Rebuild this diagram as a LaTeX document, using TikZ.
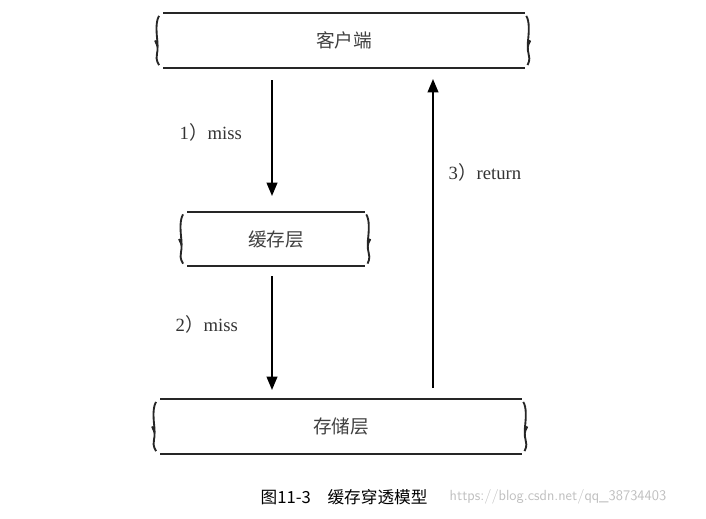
\documentclass[tikz,border=0pt]{standalone}
\usepackage{fontspec}
\newfontfamily\cjk{Noto Sans CJK SC}
\setmainfont{Liberation Serif}
\usetikzlibrary{arrows.meta}
\newcommand{\rp}{{\cjk ）}}
\tikzset{
  layer/.style={minimum height=40.5pt, inner sep=0pt, font=\cjk\fontsize{14}{16}\selectfont, text=black!75},
  edge/.style={line width=1.6pt, black!85},
  side/.style={line width=1.4pt, black!85},
  conn/.style={line width=1.4pt, -{Triangle[length=10pt,width=8pt]}},
  lbl/.style={font=\fontsize{14}{16}\selectfont, text=black!80}
}
\newcommand{\layerbox}[1]{%
  \draw[edge] (#1.north west) -- (#1.north east);
  \draw[edge] (#1.south west) -- (#1.south east);
  \draw[side] ([xshift=-3pt,yshift=-2pt]#1.north west) .. controls ([xshift=-8pt,yshift=-10pt]#1.north west) and ([xshift=-1pt,yshift=-12pt]#1.west) .. ([xshift=-6pt]#1.west) .. controls ([xshift=-1pt,yshift=12pt]#1.south west) and ([xshift=-8pt,yshift=10pt]#1.south west) .. ([xshift=-3pt,yshift=2pt]#1.south west);
  \draw[side] ([xshift=1pt,yshift=-2pt]#1.north east) .. controls ([xshift=6pt,yshift=-10pt]#1.north east) and ([xshift=-1pt,yshift=-12pt]#1.east) .. ([xshift=4pt]#1.east) .. controls ([xshift=-1pt,yshift=12pt]#1.south east) and ([xshift=6pt,yshift=10pt]#1.south east) .. ([xshift=2pt,yshift=2pt]#1.south east);
}
\begin{document}
\begin{tikzpicture}[x=0.75pt,y=-0.75pt]
\useasboundingbox (0,0) rectangle (706,518);
\node[layer, minimum width=271pt] (client) at (344,40.5) {客户端};
\node[layer, minimum width=133pt] (cache) at (276,239) {缓存层};
\node[layer, minimum width=271pt] (store) at (341,426.5) {存储层};
\layerbox{client}
\layerbox{cache}
\layerbox{store}
\coordinate (a1s) at (272,80); \coordinate (a1e) at (272,196);
\coordinate (a2s) at (272,276); \coordinate (a2e) at (272,390);
\coordinate (a3s) at (433,388); \coordinate (a3e) at (433,79);
\draw[conn] (a1s) -- (a1e);
\draw[conn] (a2s) -- (a2e);
\draw[conn] (a3s) -- (a3e);
\node[lbl, anchor=west] (l1) at (175,132) {1\rp miss};
\node[lbl, anchor=west] (l2) at (171,324) {2\rp miss};
\node[lbl, anchor=west] (l3) at (444,172) {3\rp return};
\node[font=\cjk\fontsize{12.5}{14}\selectfont, anchor=west] (cap) at (256,497) {图11-3\quad 缓存穿透模型};
\node[font=\sffamily\fontsize{11}{13}\selectfont, text=black!25, anchor=west] (wm) at (445,497) {https://blog.csdn.net/qq\_38734403};
\end{tikzpicture}
\end{document}
